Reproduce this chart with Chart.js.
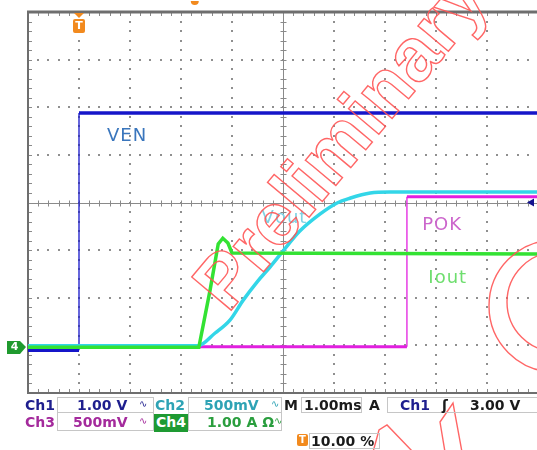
<!DOCTYPE html>
<html><head><meta charset="utf-8">
<script src="https://cdn.jsdelivr.net/npm/chart.js@4/dist/chart.umd.min.js"></script>
<style>
html,body{margin:0;padding:0;background:#fff;overflow:hidden;width:537px;height:450px;}
#wrap{position:absolute;left:0;top:0;width:545px;height:450px;}
#status{position:absolute;left:0;top:0;width:545px;height:450px;pointer-events:none;}
.t{position:absolute;font-family:"DejaVu Sans",sans-serif;font-weight:bold;font-size:14px;line-height:15px;white-space:nowrap;}
.ic{position:absolute;font-family:"DejaVu Sans",sans-serif;font-size:10px;line-height:10px;white-space:nowrap;}
.box{position:absolute;border:1px solid #c6c6c6;box-sizing:border-box;}
</style></head><body>
<div id="wrap"><canvas id="c" width="545" height="450"></canvas></div>
<div id="status"></div>
<script>
// ---- data (vertical unit: screen divisions, time unit: ms) ----
const timeVEN = [-1, 0, 0, 9];
const valVEN  = [-3.10, -3.10, 1.88, 1.88];
const timeVout = [-1, 2.33, 2.67, 2.96, 3.22, 3.49, 3.75, 4.00, 4.33, 4.73, 5.06, 5.31, 5.71, 6.10, 9];
const valVout  = [-3.01, -3.01, -2.74, -2.47, -2.05, -1.67, -1.35, -1.02, -0.60, -0.24, -0.01, 0.09, 0.20, 0.22, 0.22];
const timeIout = [-1, 2.35, 2.57, 2.73, 2.82, 2.92, 3.00, 9];
const valIout  = [-3.04, -3.04, -1.84, -0.87, -0.75, -0.85, -1.06, -1.08];
const timePOK = [-1, 6.43, 6.43, 9];
const valPOK  = [-3.03, -3.03, 0.12, 0.12];
const seriesNames = ['Iout', 'Vout', 'POK', 'VEN'];
// labels placed at (time, division)
const labelTime = [6.85, 3.58, 6.73, 0.55];
const labelVal  = [-1.59, -0.33, -0.47, 1.38];
// status bar texts
const chNames  = ['Ch1', 'Ch2', 'Ch3', 'Ch4'];
const chScales = ['1.00 V', '500mV', '500mV', '1.00 A Ω'];
const timebase = '1.00ms';
const trigSource = 'Ch1';
const trigLevel = '3.00 V';
const trigPos = '10.00 %';
const xMin = -1, xMax = 9, yMin = -4, yMax = 4;

const colors = {Iout:'#33e233', Vout:'#33d6e8', POK:'#e21fe0', VEN:'#1515c9'};
const labelColors = {Iout:'#6ede6e', Vout:'#7fd3e4', POK:'#cc66cc', VEN:'#3a76bd'};

const mk = (ts, vs) => ts.map((t, i) => ({x: t, y: vs[i]}));
const thinVertical = c => (c.p0.parsed.x === c.p1.parsed.x ? 1.3 : undefined);

const scopeGrid = {
  id: 'scopeGrid',
  beforeDatasetsDraw(chart) {
    const {ctx, scales: {x, y}, chartArea: a} = chart;
    ctx.save();
    ctx.fillStyle = '#8f8f8f';
    const R = Math.round;
    for (let i = xMin + 1; i < xMax; i++) {
      if (i === 4) continue;
      const px = R(x.getPixelForValue(i));
      for (let j = yMin * 5; j <= yMax * 5; j++) {
        const py = R(y.getPixelForValue(j / 5));
        ctx.fillRect(px - 1, py - 1, 2, 2);
      }
    }
    for (let k = yMin + 1; k < yMax; k++) {
      if (k === 0) continue;
      const py = R(y.getPixelForValue(k));
      for (let j = xMin * 5; j <= xMax * 5; j++) {
        const px = R(x.getPixelForValue(j / 5));
        ctx.fillRect(px - 1, py - 1, 2, 2);
      }
    }
    // center crosshair with ticks
    ctx.strokeStyle = '#8a8a8a';
    ctx.lineWidth = 1;
    const cx = R(x.getPixelForValue(4)) + 0.5, cy = R(y.getPixelForValue(0)) + 0.5;
    ctx.beginPath();
    ctx.moveTo(a.left, cy); ctx.lineTo(a.right, cy);
    ctx.moveTo(cx, a.top); ctx.lineTo(cx, a.bottom);
    for (let j = xMin * 5; j <= xMax * 5; j++) {
      const px = R(x.getPixelForValue(j / 5)) + 0.5;
      ctx.moveTo(px, cy - 3); ctx.lineTo(px, cy + 3);
      ctx.moveTo(px, a.bottom); ctx.lineTo(px, a.bottom - 4);
      ctx.moveTo(px, a.top); ctx.lineTo(px, a.top + 4);
    }
    for (let j = yMin * 5; j <= yMax * 5; j++) {
      const py = R(y.getPixelForValue(j / 5)) + 0.5;
      ctx.moveTo(cx - 3, py); ctx.lineTo(cx + 3, py);
      ctx.moveTo(a.left, py); ctx.lineTo(a.left + 4, py);
    }
    ctx.stroke();
    // frame
    ctx.strokeStyle = '#6e6e6e';
    ctx.lineWidth = 3;
    ctx.beginPath(); ctx.moveTo(a.left - 1, a.top); ctx.lineTo(a.right + 2, a.top); ctx.stroke();
    ctx.lineWidth = 2;
    ctx.beginPath();
    ctx.moveTo(a.left, a.top); ctx.lineTo(a.left, a.bottom);
    ctx.moveTo(a.left - 1, a.bottom); ctx.lineTo(a.right + 2, a.bottom);
    ctx.stroke();
    ctx.restore();
  },
  afterDatasetsDraw(chart) {
    const {ctx, scales: {x, y}, chartArea: a} = chart;
    ctx.save();
    // trace labels
    ctx.font = '18px "DejaVu Sans"';
    ctx.textBaseline = 'middle';
    seriesNames.forEach((n, i) => {
      ctx.fillStyle = labelColors[n];
      const px = x.getPixelForValue(labelTime[i]), py = y.getPixelForValue(labelVal[i]);
      let cx = px;
      for (const ch of n) { ctx.fillText(ch, cx, py); cx += ctx.measureText(ch).width + 1; }
    });
    // trigger position marker (T)
    const tx = Math.round(x.getPixelForValue(0));
    ctx.fillStyle = '#f28a1e';
    ctx.beginPath(); ctx.moveTo(tx - 5, a.top + 1); ctx.lineTo(tx + 5, a.top + 1); ctx.lineTo(tx, a.top + 6); ctx.closePath(); ctx.fill();
    ctx.beginPath();
    if (ctx.roundRect) ctx.roundRect(tx - 6, a.top + 7, 12, 14, 2); else ctx.rect(tx - 6, a.top + 7, 12, 14);
    ctx.fill();
    ctx.fillStyle = '#fff';
    ctx.font = 'bold 11px "DejaVu Sans"';
    ctx.textAlign = 'center';
    ctx.fillText('T', tx, a.top + 14.5);
    // small orange marker cut at top
    ctx.fillStyle = '#f28a1e';
    ctx.beginPath(); ctx.arc(x.getPixelForValue(2.27), 1, 4, 0, Math.PI); ctx.fill();
    // channel 4 ground marker
    const gy = Math.round(y.getPixelForValue(valIout[0]));
    ctx.fillStyle = '#1f9a2e';
    ctx.beginPath();
    ctx.moveTo(7, gy - 6); ctx.lineTo(20, gy - 6); ctx.lineTo(26, gy); ctx.lineTo(20, gy + 7); ctx.lineTo(7, gy + 7); ctx.closePath(); ctx.fill();
    ctx.fillStyle = '#fff';
    ctx.font = 'bold 11px "DejaVu Sans"';
    ctx.fillText('4', 14.5, gy + 0.5);
    // trigger level marker at right
    const ly = y.getPixelForValue(0);
    ctx.fillStyle = '#12128f';
    ctx.beginPath(); ctx.moveTo(527, ly); ctx.lineTo(534, ly - 4); ctx.lineTo(534, ly + 4); ctx.closePath(); ctx.fill();
    ctx.restore();
  },
  afterDraw(chart) {
    const ctx = chart.ctx;
    ctx.save();
    ctx.strokeStyle = 'rgba(255,85,85,0.9)';
    ctx.lineWidth = 1.4;
    ctx.save();
    ctx.translate(228, 314);
    ctx.rotate(-50 * Math.PI / 180);
    ctx.font = 'bold 75px "Liberation Sans"';
    ctx.strokeText('Preliminary', 0, 0);
    ctx.restore();
    ctx.beginPath(); ctx.arc(555, 306, 66, 0, Math.PI * 2); ctx.stroke();
    ctx.beginPath(); ctx.arc(557, 302, 50, 0, Math.PI * 2); ctx.stroke();
    ctx.beginPath();
    ctx.moveTo(373, 452); ctx.lineTo(379, 430); ctx.lineTo(387, 425); ctx.lineTo(413, 452);
    ctx.moveTo(445, 452); ctx.lineTo(440, 422); ctx.lineTo(453, 403); ctx.lineTo(462, 452);
    ctx.stroke();
    ctx.restore();
  }
};

new Chart(document.getElementById('c'), {
  type: 'line',
  data: {
    datasets: [
      {label: 'Iout', data: mk(timeIout, valIout), borderColor: colors.Iout, borderWidth: 3.5, pointRadius: 0, tension: 0, segment: {borderWidth: thinVertical}},
      {label: 'Vout', data: mk(timeVout, valVout), borderColor: colors.Vout, borderWidth: 3.5, pointRadius: 0, cubicInterpolationMode: 'monotone'},
      {label: 'POK', data: mk(timePOK, valPOK), borderColor: colors.POK, borderWidth: 3, pointRadius: 0, tension: 0, segment: {borderWidth: thinVertical}},
      {label: 'VEN', data: mk(timeVEN, valVEN), borderColor: colors.VEN, borderWidth: 3.5, pointRadius: 0, tension: 0, segment: {borderWidth: thinVertical}}
    ]
  },
  options: {
    responsive: false,
    devicePixelRatio: 1,
    animation: false,
    events: [],
    layout: {padding: {left: 28, top: 12, right: 7, bottom: 57}},
    plugins: {legend: {display: false}, tooltip: {enabled: false}},
    scales: {
      x: {type: 'linear', min: xMin, max: xMax, display: false},
      y: {type: 'linear', min: yMin, max: yMax, display: false}
    }
  },
  plugins: [scopeGrid]
});

// ---- status bar (real text) ----
const st = document.getElementById('status');
function box(l, t, w, h) { const d = document.createElement('div'); d.className = 'box'; Object.assign(d.style, {left: l + 'px', top: t + 'px', width: w + 'px', height: h + 'px'}); st.appendChild(d); return d; }
function txt(s, l, t, color, cls, extra) { const d = document.createElement('div'); d.className = cls || 't'; d.textContent = s; Object.assign(d.style, {left: l + 'px', top: t + 'px', color: color}, extra || {}); st.appendChild(d); return d; }
const chColors = ['#1e1e8e', '#2ea3b5', '#a42a9c', '#2a9e3e'];
box(57, 397, 97, 16); box(188, 397, 94, 16); box(301, 397, 61, 16); box(387, 397, 170, 16);
box(57, 412, 97, 19); box(188, 412, 94, 19);
box(309, 433, 71, 16);
txt(chNames[0], 25, 398, chColors[0]);
txt(chScales[0], 77, 398, chColors[0]);
txt('∿', 139, 399, chColors[0], 'ic');
txt(chNames[1], 155, 398, chColors[1]);
txt(chScales[1], 204, 398, chColors[1]);
txt('∿', 271, 399, chColors[1], 'ic');
txt('M', 284, 398, '#1a1a1a');
txt(timebase, 304, 398, '#1a1a1a');
txt('A', 369, 398, '#1a1a1a');
txt(trigSource, 400, 398, chColors[0]);
txt('ʃ', 442, 398, '#1a1a1a');
txt(trigLevel, 470, 398, '#1a1a1a');
txt(chNames[2], 25, 415, chColors[2]);
txt(chScales[2], 73, 415, chColors[2]);
txt('∿', 139, 416, chColors[2], 'ic');
txt(chNames[3], 154, 415, '#ffffff', 't', {background: '#1e9a32', padding: '1px 2px 2px 2px', top: '414px'});
txt(chScales[3], 207, 415, chColors[3]);
txt('∿', 274, 416, chColors[3], 'ic');
txt('T', 297, 434, '#ffffff', 't', {background: '#f28a1e', fontSize: '10px', lineHeight: '12px', padding: '0 2px', borderRadius: '2px'});
txt(trigPos, 311, 434, '#1a1a1a');
</script>
</body></html>
